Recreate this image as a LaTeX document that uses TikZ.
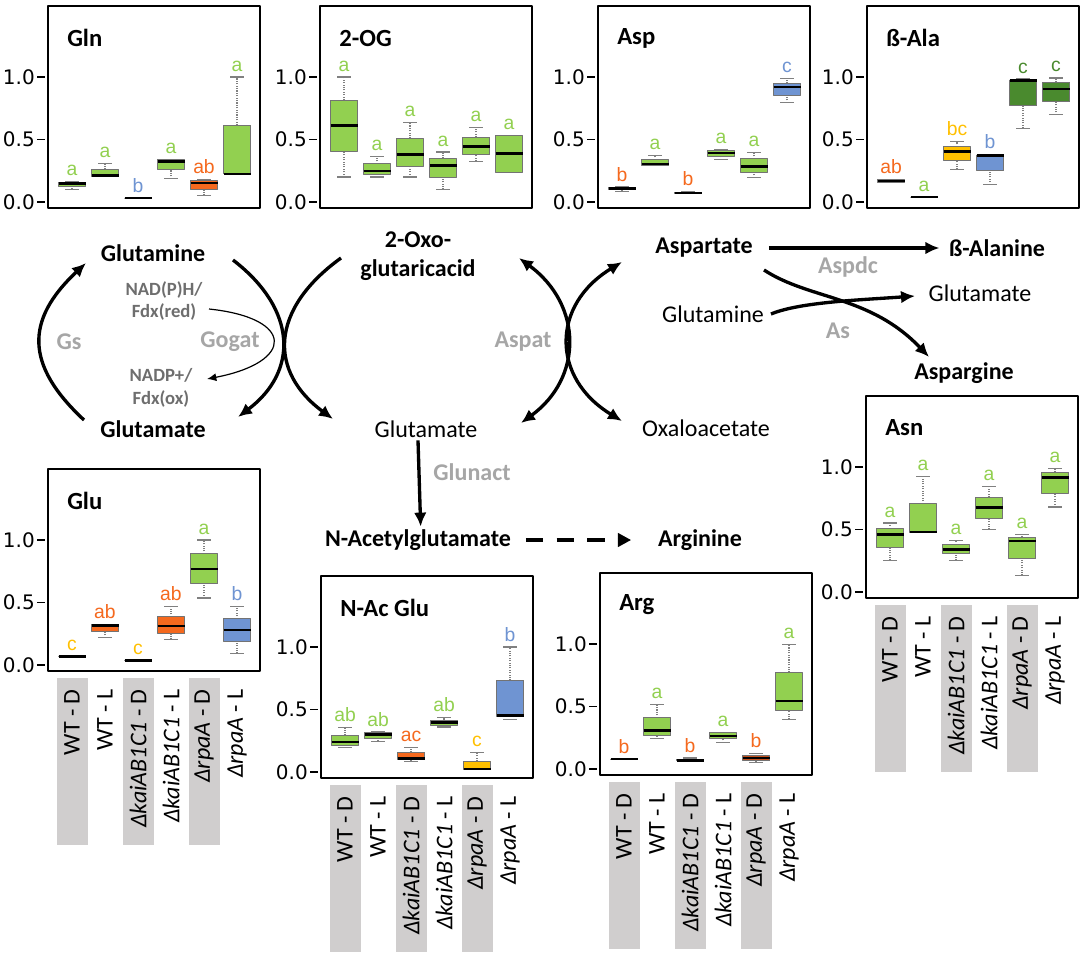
\documentclass[tikz,border=0pt]{standalone}
\usepackage{fontspec}
\setmainfont{Carlito}
\newfontfamily\tickfont{DejaVu Sans}
\newfontfamily\letfont{Liberation Sans}
\usetikzlibrary{arrows.meta}

\definecolor{bgreen}{HTML}{92D050}
\definecolor{borange}{HTML}{F5691E}
\definecolor{bbrown}{HTML}{C4501C}
\definecolor{bblue}{HTML}{6F94D2}
\definecolor{byellow}{HTML}{FFC000}
\definecolor{bdkgreen}{HTML}{4A8A2E}
\definecolor{bandgray}{HTML}{D0CECE}
\definecolor{enzgray}{HTML}{A6A6A6}
\definecolor{cofgray}{HTML}{6E6E6E}

% one box: index, low, q1, median, q3, high, fill, letter, letter colour
\newcommand\bp[9]{%
  \pgfmathsetmacro\cx{24+33*(#1-1)}%
  \draw[whisk] (\cx,{-125*#2}) -- (\cx,{-125*#3}) (\cx,{-125*#5}) -- (\cx,{-125*#6});
  \draw[wcap] ({\cx-7},{-125*#2}) -- ({\cx+7},{-125*#2}) ({\cx-7},{-125*#6}) -- ({\cx+7},{-125*#6});
  \filldraw[boxline,fill=#7] ({\cx-13.5},{-125*#3}) rectangle ({\cx+13.5},{-125*#5});
  \draw[median] ({\cx-13.5},{-125*#4}) -- ({\cx+13.5},{-125*#4});
  \node[sig,text=#9] (\pn-s#1) at (\cx,{-125*#6-6}) {#8};
}
% frame, y axis and title of a panel
\newcommand\plotframe[1]{%
  \draw[frameline] (0,6) rectangle (212,-196);
  \foreach \v/\s [count=\k] in {0/0.0,0.5/0.5,1/1.0}{
    \draw[tickline] (-11,{-125*\v}) -- (-3,{-125*\v});
    \node[ticklab] (\pn-y\k) at (-13,{-125*\v}) {\s};
  }
  \node[ptitle] (\pn-t) at (19,-164) {#1};
}
% strain labels under a panel
\newcommand\xlabs{%
  \foreach \i in {1,3,5}{
    \pgfmathsetmacro\cx{24+33*(\i-1)}
    \fill[bandgray] ({\cx-15.5},13) rectangle ({\cx+15.5},180);
  }
  \foreach \t [count=\i] in {{WT - D},{WT - L},{\textit{ΔkaiAB1C1} - D},{\textit{ΔkaiAB1C1} - L},{\textit{ΔrpaA} - D},{\textit{ΔrpaA} - L}}{
    \pgfmathsetmacro\cx{24+33*(\i-1)}
    \node[xlab] (\pn-x\i) at (\cx,24) {\t};
  }
}

\begin{document}
\begin{tikzpicture}[x=0.75pt,y=-0.75pt,line join=round,
  frameline/.style={line width=1.3pt},
  tickline/.style={line width=0.8pt},
  ticklab/.style={anchor=east,inner sep=0pt,font=\tickfont\fontsize{15}{15}\selectfont},
  ptitle/.style={anchor=west,inner sep=0pt,font=\fontsize{18.5}{18.5}\selectfont\bfseries},
  whisk/.style={densely dotted,line width=0.8pt,draw=gray},
  wcap/.style={line width=0.8pt,draw=gray},
  boxline/.style={line width=0.7pt,draw=gray!90!black},
  median/.style={line width=2pt},
  sig/.style={anchor=base,inner sep=0pt,font=\letfont\fontsize{14.5}{14.5}\selectfont},
  xlab/.style={rotate=90,anchor=east,inner sep=0pt,font=\fontsize{18}{18}\selectfont},
  met/.style={inner sep=2pt,font=\fontsize{18}{21.6}\selectfont},
  metb/.style={inner sep=2pt,font=\fontsize{18}{21.6}\selectfont\bfseries},
  enz/.style={inner sep=2pt,text=enzgray,font=\fontsize{18}{21.6}\selectfont\bfseries},
  cof/.style={inner sep=2pt,text=cofgray,align=center,font=\fontsize{14}{17}\selectfont\bfseries},
  flow/.style={line width=2.5pt,-{Latex[length=10.5pt,width=9.5pt]}},
  flowboth/.style={line width=2.5pt,{Latex[length=10.5pt,width=9.5pt]}-{Latex[length=10.5pt,width=9.5pt]}},
  thinflow/.style={line width=0.9pt,-{Latex[length=7pt,width=6pt]}},
  dflow/.style={line width=2.6pt,dash pattern=on 13pt off 10pt,-{Triangle[length=10pt,width=10pt]}}]
\useasboundingbox (0,0) rectangle (1084,956);
\fill[white] (0,0) rectangle (1084,956);

% ---- top panels
\def\pn{gln}
\begin{scope}[shift={(48,202)}]
  \plotframe{Gln}
  \bp{1}{0.10}{0.125}{0.146}{0.16}{0.167}{bgreen}{a}{bgreen}
  \bp{2}{0.207}{0.207}{0.21}{0.26}{0.305}{bgreen}{a}{bgreen}
  \bp{3}{0.032}{0.032}{0.032}{0.032}{0.032}{bblue}{b}{bblue}
  \bp{4}{0.186}{0.263}{0.326}{0.337}{0.34}{bgreen}{a}{bgreen}
  \bp{5}{0.053}{0.103}{0.151}{0.17}{0.178}{borange}{ab}{borange}
  \bp{6}{0.225}{0.225}{0.225}{0.615}{1.0}{bgreen}{a}{bgreen}
\end{scope}

\def\pn{og}
\begin{scope}[shift={(320,202)}]
  \plotframe{2-OG}
  \bp{1}{0.20}{0.407}{0.614}{0.816}{1.0}{bgreen}{a}{bgreen}
  \bp{2}{0.20}{0.221}{0.247}{0.306}{0.367}{bgreen}{a}{bgreen}
  \bp{3}{0.20}{0.287}{0.378}{0.508}{0.633}{bgreen}{a}{bgreen}
  \bp{4}{0.10}{0.20}{0.293}{0.348}{0.40}{bgreen}{a}{bgreen}
  \bp{5}{0.327}{0.38}{0.444}{0.519}{0.598}{bgreen}{a}{bgreen}
  \bp{6}{0.239}{0.239}{0.388}{0.532}{0.532}{bgreen}{a}{bgreen}
\end{scope}

\def\pn{asp}
\begin{scope}[shift={(598,202)}]
  \plotframe{Asp}
  \bp{1}{0.085}{0.098}{0.109}{0.12}{0.12}{bbrown}{b}{borange}
  \bp{2}{0.292}{0.292}{0.305}{0.337}{0.37}{bgreen}{a}{bgreen}
  \bp{3}{0.068}{0.068}{0.072}{0.076}{0.085}{bgreen}{b}{borange}
  \bp{4}{0.337}{0.366}{0.393}{0.411}{0.42}{bgreen}{a}{bgreen}
  \bp{5}{0.194}{0.239}{0.286}{0.345}{0.398}{bgreen}{a}{bgreen}
  \bp{6}{0.793}{0.854}{0.92}{0.95}{0.987}{bblue}{c}{bblue}
\end{scope}

\def\pn{bala}
\begin{scope}[shift={(867,202)}]
  \plotframe{ß-Ala}
  \bp{1}{0.158}{0.158}{0.169}{0.18}{0.18}{bbrown}{ab}{borange}
  \bp{2}{0.04}{0.04}{0.04}{0.04}{0.04}{bgreen}{a}{bgreen}
  \bp{3}{0.26}{0.33}{0.402}{0.442}{0.483}{byellow}{bc}{byellow}
  \bp{4}{0.139}{0.249}{0.37}{0.375}{0.383}{bblue}{b}{bblue}
  \bp{5}{0.59}{0.769}{0.97}{0.973}{0.984}{bdkgreen}{c}{bdkgreen}
  \bp{6}{0.697}{0.804}{0.903}{0.957}{0.992}{bdkgreen}{c}{bdkgreen}
\end{scope}

% ---- bottom panels
\def\pn{glu}
\begin{scope}[shift={(48,665)}]
  \xlabs
  \plotframe{Glu}
  \bp{1}{0.066}{0.066}{0.066}{0.066}{0.066}{byellow}{c}{byellow}
  \bp{2}{0.217}{0.265}{0.318}{0.326}{0.326}{borange}{ab}{borange}
  \bp{3}{0.034}{0.034}{0.034}{0.034}{0.034}{byellow}{c}{byellow}
  \bp{4}{0.204}{0.252}{0.313}{0.385}{0.47}{borange}{ab}{borange}
  \bp{5}{0.536}{0.65}{0.769}{0.889}{1.0}{bgreen}{a}{bgreen}
  \bp{6}{0.093}{0.186}{0.279}{0.371}{0.47}{bblue}{b}{bblue}
\end{scope}

\def\pn{nac}
\begin{scope}[shift={(321,772)}]
  \xlabs
  \plotframe{N-Ac Glu}
  \bp{1}{0.195}{0.213}{0.24}{0.293}{0.355}{bgreen}{ab}{bgreen}
  \bp{2}{0.245}{0.272}{0.299}{0.315}{0.32}{bgreen}{ab}{bgreen}
  \bp{3}{0.085}{0.099}{0.107}{0.16}{0.195}{borange}{ac}{borange}
  \bp{4}{0.36}{0.373}{0.395}{0.413}{0.435}{bgreen}{ab}{bgreen}
  \bp{5}{0.019}{0.019}{0.024}{0.088}{0.155}{byellow}{c}{byellow}
  \bp{6}{0.419}{0.445}{0.453}{0.733}{1.0}{bblue}{b}{bblue}
\end{scope}

\def\pn{arg}
\begin{scope}[shift={(600,769)}]
  \xlabs
  \plotframe{Arg}
  \bp{1}{0.08}{0.08}{0.08}{0.08}{0.08}{bgreen}{b}{borange}
  \bp{2}{0.241}{0.268}{0.308}{0.41}{0.517}{bgreen}{a}{bgreen}
  \bp{3}{0.067}{0.067}{0.067}{0.075}{0.088}{bgreen}{b}{borange}
  \bp{4}{0.209}{0.241}{0.263}{0.29}{0.295}{bgreen}{a}{bgreen}
  \bp{5}{0.054}{0.067}{0.088}{0.107}{0.123}{bbrown}{b}{borange}
  \bp{6}{0.397}{0.469}{0.544}{0.772}{0.995}{bgreen}{a}{bgreen}
\end{scope}

\def\pn{asn}
\begin{scope}[shift={(866,592)}]
  \xlabs
  \plotframe{Asn}
  \bp{1}{0.253}{0.355}{0.461}{0.507}{0.552}{bgreen}{a}{bgreen}
  \bp{2}{0.48}{0.48}{0.48}{0.707}{0.925}{bgreen}{a}{bgreen}
  \bp{3}{0.253}{0.307}{0.341}{0.379}{0.413}{bgreen}{a}{bgreen}
  \bp{4}{0.501}{0.587}{0.675}{0.76}{0.845}{bgreen}{a}{bgreen}
  \bp{5}{0.133}{0.267}{0.408}{0.44}{0.461}{bgreen}{a}{bgreen}
  \bp{6}{0.68}{0.792}{0.915}{0.96}{0.987}{bgreen}{a}{bgreen}
\end{scope}

% ---- pathway
\node[metb] (glnL) at (153,253) {Glutamine};
\node[metb] (gluL) at (153,429) {Glutamate};
\node[cof] (nadh) at (164,301) {NAD(P)H/\\Fdx(red)};
\node[cof] (nadp) at (161,388) {NADP+/\\Fdx(ox)};
\node[enz] (gs) at (69,342) {Gs};
\node[enz] (gogat) at (230,342) {Gogat};
\node[metb,align=center] (oxo) at (418,256) {2-Oxo-\\glutaricacid};
\node[met] (glu2) at (426,429) {Glutamate};
\node[enz] (aspat) at (523,342) {Aspat};
\node[met] (oxa) at (706,428) {Oxaloacetate};
\node[metb] (asp) at (704,248) {Aspartate};
\node[metb] (bala) at (997,248) {ß-Alanine};
\node[enz] (aspdc) at (848,267) {Aspdc};
\node[met] (glu3) at (980,293) {Glutamate};
\node[met] (gln2) at (713,314) {Glutamine};
\node[enz] (as) at (838,331) {As};
\node[metb] (asg) at (964,373) {Aspargine};
\node[enz] (glunact) at (472,472) {Glunact};
\node[metb] (nacg) at (418,540) {N-Acetylglutamate};
\node[metb] (arg) at (700,540) {Arginine};

% Gs
\coordinate (gs1) at (84,420);
\coordinate (gs2) at (86,263);
\draw[flow] (gs1) .. controls (25,365) and (25,320) .. (gs2);
% Gogat
\coordinate (go1) at (233,260);
\coordinate (go2) at (238,417);
\coordinate (go3) at (341,258);
\coordinate (go4) at (333,419);
\draw[flow] (go1) .. controls (298,310) and (298,372) .. (go2);
\draw[flow] (go3) .. controls (269,310) and (269,372) .. (go4);
\coordinate (nd1) at (209,309);
\coordinate (nd2) at (207,379);
\draw[thinflow] (nd1) .. controls (295,318) and (295,362) .. (nd2);
% Aspat
\coordinate (ap1) at (519,258);
\coordinate (ap2) at (521,423);
\coordinate (ap3) at (622,262);
\coordinate (ap4) at (622,421);
\draw[flowboth] (ap1) .. controls (583,305) and (583,378) .. (ap2);
\draw[flowboth] (ap3) .. controls (551,305) and (551,378) .. (ap4);
% Aspdc, As
\draw[flow] ([xshift=10]asp.east) -- ([xshift=-5]bala.west);
\coordinate (as1) at (764,270);
\coordinate (as2) at (929,357);
\coordinate (as3) at (771,314);
\coordinate (as4) at (915,296);
\draw[flow] (as1) .. controls (810,300) and (870,295) .. (as2);
\draw[flow] (as3) .. controls (800,302) and (860,300) .. (as4);
% Glunact
\draw[flow] ([xshift=-6]glu2.south) -- ([xshift=2]nacg.north);
\draw[dflow] ([xshift=9]nacg.east) -- ([xshift=-18]arg.west);
\end{tikzpicture}
\end{document}
